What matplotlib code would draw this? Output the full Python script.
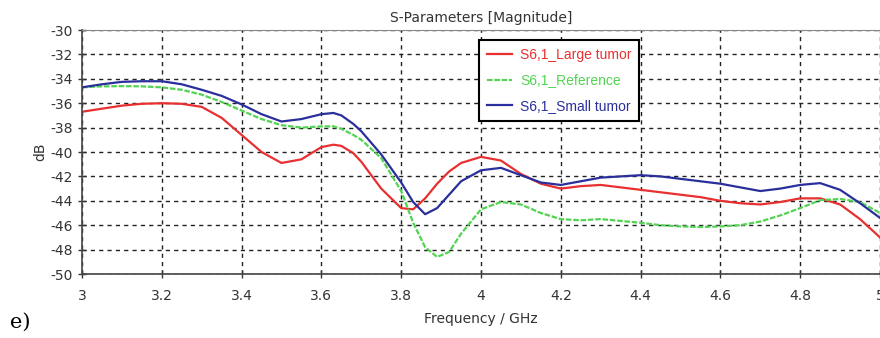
import numpy as np
import matplotlib

matplotlib.use('Agg')

import matplotlib.pyplot as plt

# S6,1 magnitude curves
freq = [3.0, 3.05, 3.1, 3.15, 3.2, 3.25, 3.3, 3.35, 3.4, 3.45, 3.5, 3.55, 3.6, 3.63,
        3.65, 3.68, 3.7, 3.75, 3.8, 3.83, 3.86, 3.89, 3.92, 3.95, 4.0, 4.05, 4.1,
        4.15, 4.2, 4.25, 4.3, 4.4, 4.45, 4.5, 4.55, 4.6, 4.65, 4.7, 4.75, 4.8,
        4.85, 4.9, 4.95, 5.0]

large_tumor = [-36.7, -36.45, -36.2, -36.05, -36.0, -36.05, -36.3, -37.2, -38.6, -40.0,
               -40.9, -40.6, -39.6, -39.4, -39.5, -40.1, -40.8, -43.0, -44.6, -44.7,
               -43.8, -42.6, -41.6, -40.9, -40.4, -40.7, -41.8, -42.6, -43.0, -42.8,
               -42.7, -43.1, -43.3, -43.5, -43.7, -44.0, -44.2, -44.3, -44.1, -43.8,
               -43.8, -44.3, -45.5, -47.0]

reference = [-34.7, -34.62, -34.6, -34.62, -34.7, -34.9, -35.3, -35.9, -36.6, -37.3,
             -37.8, -38.0, -37.9, -37.9, -38.1, -38.6, -39.0, -40.5, -43.2, -45.8,
             -47.8, -48.6, -48.2, -46.7, -44.7, -44.1, -44.3, -45.0, -45.5, -45.6,
             -45.5, -45.8, -46.0, -46.1, -46.15, -46.1, -46.0, -45.7, -45.2, -44.6,
             -43.95, -43.85, -44.1, -45.0]

small_tumor = [-34.7, -34.45, -34.25, -34.2, -34.2, -34.45, -34.9, -35.4, -36.1, -36.9,
               -37.5, -37.3, -36.9, -36.8, -37.0, -37.7, -38.3, -40.2, -42.5, -44.1,
               -45.1, -44.6, -43.5, -42.4, -41.5, -41.3, -41.9, -42.5, -42.7, -42.4,
               -42.1, -41.9, -42.0, -42.2, -42.4, -42.6, -42.9, -43.2, -43.0, -42.7,
               -42.55, -43.1, -44.2, -45.4]

series_labels = ['S6,1_Large tumor', 'S6,1_Reference', 'S6,1_Small tumor']
x_ticks = [3, 3.2, 3.4, 3.6, 3.8, 4, 4.2, 4.4, 4.6, 4.8, 5]
x_tick_labels = ['3', '3.2', '3.4', '3.6', '3.8', '4', '4.2', '4.4', '4.6', '4.8', '5']
y_ticks = list(range(-50, -29, 2))

red = '#e83030'
green = '#52d452'
blue = '#2a2f9c'

plt.rcParams['font.family'] = ['DejaVu Sans']
plt.rcParams['axes.unicode_minus'] = False

fig = plt.figure(figsize=(8.8, 3.38), dpi=100)
ax = fig.add_axes([82 / 880, 1 - 274 / 338, 798 / 880, 244 / 338])

ax.plot(freq, large_tumor, color=red, linewidth=1.6, label=series_labels[0])
ax.plot(freq, reference, color=green, linewidth=1.6, linestyle=(0, (2.5, 0.8)),
        label=series_labels[1])
ax.plot(freq, small_tumor, color=blue, linewidth=1.6, label=series_labels[2])

ax.set_xlim(3, 5)
ax.set_ylim(-50, -30)
ax.set_xticks(x_ticks)
ax.set_xticklabels(x_tick_labels)
ax.set_yticks(y_ticks)
ax.tick_params(axis='both', labelsize=10, colors='#333333', direction='inout',
               length=6, width=1)
ax.tick_params(axis='x', pad=8)

ax.grid(True, color='#222222', linestyle=(0, (3, 3)), linewidth=1)
ax.set_axisbelow(True)

ax.spines['right'].set_visible(False)
ax.spines['top'].set_color('#888888')
ax.spines['left'].set_color('#444444')
ax.spines['bottom'].set_color('#444444')
ax.spines['left'].set_linewidth(1.2)
ax.spines['bottom'].set_linewidth(1.2)

ax.set_title('S-Parameters [Magnitude]', fontsize=10, color='#333333', pad=6)
ax.set_xlabel('Frequency / GHz', fontsize=10, color='#333333', labelpad=6)
ax.set_ylabel('dB', fontsize=10, color='#333333', labelpad=2)

leg = ax.legend(loc='upper left', bbox_to_anchor=(0.4975, 0.959), fancybox=False,
                framealpha=1, edgecolor='black', handlelength=1.8, handletextpad=0.6,
                borderpad=0.55, labelspacing=0.85, borderaxespad=0,
                prop={'family': 'Liberation Sans', 'size': 10})
leg.get_frame().set_linewidth(1.5)
for txt, col in zip(leg.get_texts(), [red, green, blue]):
    txt.set_color(col)

fig.text(10 / 880, 1 - 322 / 338, 'e)', family='serif', fontsize=15,
         va='center', ha='left')

fig.savefig('out.png', dpi=100)
